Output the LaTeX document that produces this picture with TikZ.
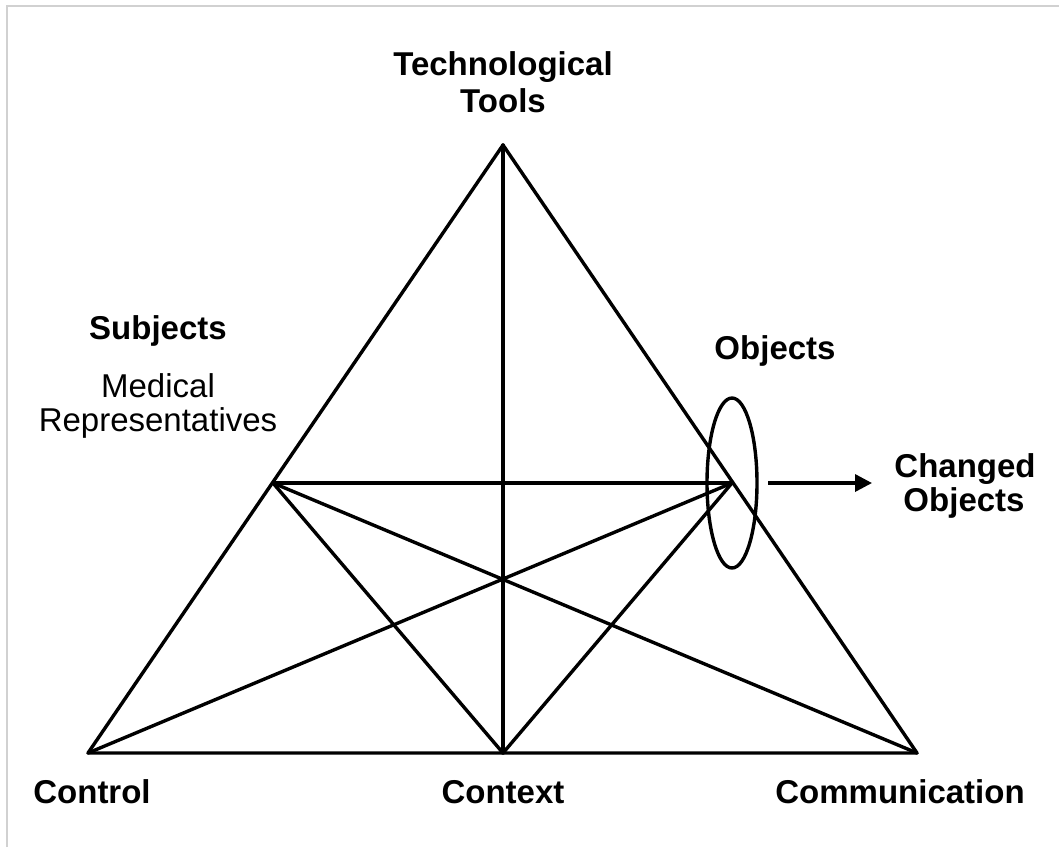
\documentclass[tikz,border=0pt]{standalone}
\usepackage{fontspec}
\setmainfont{Liberation Sans}
\usetikzlibrary{arrows.meta}
\begin{document}
\begin{tikzpicture}[x=1pt,y=-1pt,
  edge/.style={line width=3.4pt, line cap=round, line join=round},
  lbl/.style={font=\fontsize{33}{37}\selectfont\bfseries, anchor=base, inner sep=0pt},
  rlbl/.style={font=\fontsize{33}{37}\selectfont, anchor=base, inner sep=0pt}]
\useasboundingbox (0,0) rectangle (1059,847);
\fill[white] (0,0) rectangle (1059,847);
\draw[line width=2pt, color=black!18] (7,847) -- (7,6) -- (1059,6);
% vertices
\coordinate (T) at (503,145);
\coordinate (BL) at (88,753);
\coordinate (BM) at (503,753);
\coordinate (BR) at (917,753);
\coordinate (S) at (273,483);
\coordinate (O) at (732,483);
% triangle
\draw[edge] (T) -- (BL) -- (BR) -- cycle;
\draw[edge] (T) -- (BM);
\draw[edge] (S) -- (O);
\draw[edge] (S) -- (BM);
\draw[edge] (S) -- (BR);
\draw[edge] (O) -- (BL);
\draw[edge] (O) -- (BM);
% ellipse
\draw[line width=3.4pt] (O) ellipse [x radius=25, y radius=85];
% arrow
\coordinate (A1) at (768,483);
\coordinate (A2) at (872,483);
\draw[line width=3.4pt, -{Triangle[length=17pt,width=17pt]}] (A1) -- (A2);
% labels
\node[lbl] (tech) at (503,75) {Technological};
\node[lbl] (tools) at (503,112) {Tools};
\node[lbl] (subj) at (158,339) {Subjects};
\node[rlbl] (med) at (158,397) {Medical};
\node[rlbl] (rep) at (158,431) {Representatives};
\node[lbl] (obj) at (775,359) {Objects};
\node[lbl] (chg) at (965,477) {Changed};
\node[lbl] (chgo) at (964,511) {Objects};
\node[lbl] (ctrl) at (92,803) {Control};
\node[lbl] (ctx) at (503,803) {Context};
\node[lbl] (comm) at (900,803) {Communication};
\end{tikzpicture}
\end{document}
